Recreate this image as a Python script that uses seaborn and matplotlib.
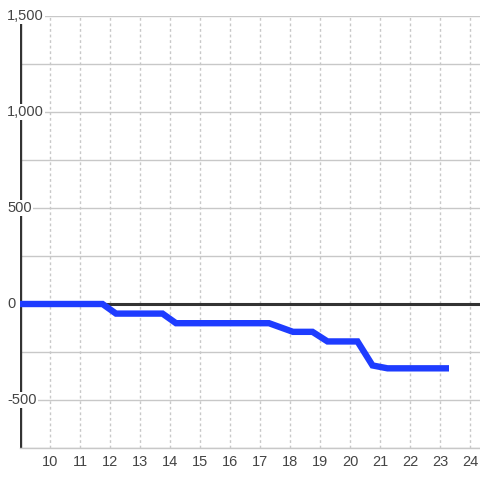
import seaborn as sns
import pandas as pd
import matplotlib.pyplot as plt
import numpy as np

# values
xs = [9.0, 11.75, 12.2, 13.75, 14.2, 17.3, 18.1, 18.75, 19.25, 20.25, 20.75, 21.25, 23.3]
ys = [0, 0, -50, -50, -100, -100, -145, -145, -195, -195, -320, -335, -335]
x_ticks = list(range(10, 25))
y_labels = [1500, 1000, 500, 0, -500]

sns.set_style("white")
plt.rcParams['font.family'] = ['Liberation Sans', 'DejaVu Sans']

fig = plt.figure(figsize=(4.8, 4.8), dpi=100)
ax = fig.add_axes([20 / 480, 32 / 480, 460 / 480, 432 / 480])

df = pd.DataFrame({"x": xs, "y": ys})

grid_c = "#c8c8c8"
ax.set_xlim(9.0, 9.0 + 460 / 30)
ax.set_ylim(-750, 1500)
ax.set_yticks(np.arange(-750, 1501, 250))
ax.set_yticklabels([])
ax.set_xticks(x_ticks)
ax.set_xticklabels([str(t) for t in x_ticks])
ax.tick_params(axis='both', length=0)
ax.tick_params(axis='x', pad=5, labelsize=10.5, labelcolor="#444444")
ax.yaxis.grid(True, color=grid_c, lw=1, zorder=0)
ax.xaxis.grid(True, color=grid_c, lw=1, linestyle=(0, (2, 2)), zorder=0)
ax.set_axisbelow(True)

for side in ["top", "right"]:
    ax.spines[side].set_visible(False)
ax.spines["bottom"].set_color(grid_c)
ax.spines["bottom"].set_linewidth(1)
ax.spines["left"].set_visible(False)

# left axis line and zero line
ax.axvline(9.0, color="#333333", lw=2.4, zorder=1)
ax.axhline(0, color="#333333", lw=2.2, zorder=1)

sns.lineplot(data=df, x="x", y="y", ax=ax, color="#1e3cff", lw=4.6,
             solid_joinstyle="miter", solid_capstyle="butt", zorder=3)
ax.set_xlabel("")
ax.set_ylabel("")

for v in y_labels:
    ax.text(-13 / 460, v, f"{v:,}", transform=ax.get_yaxis_transform(),
            ha="left", va="center", fontsize=10.5, color="#444444", zorder=5,
            clip_on=False,
            bbox=dict(facecolor="white", edgecolor="none", pad=1.0))

fig.savefig("out.png", dpi=100, facecolor="white")
